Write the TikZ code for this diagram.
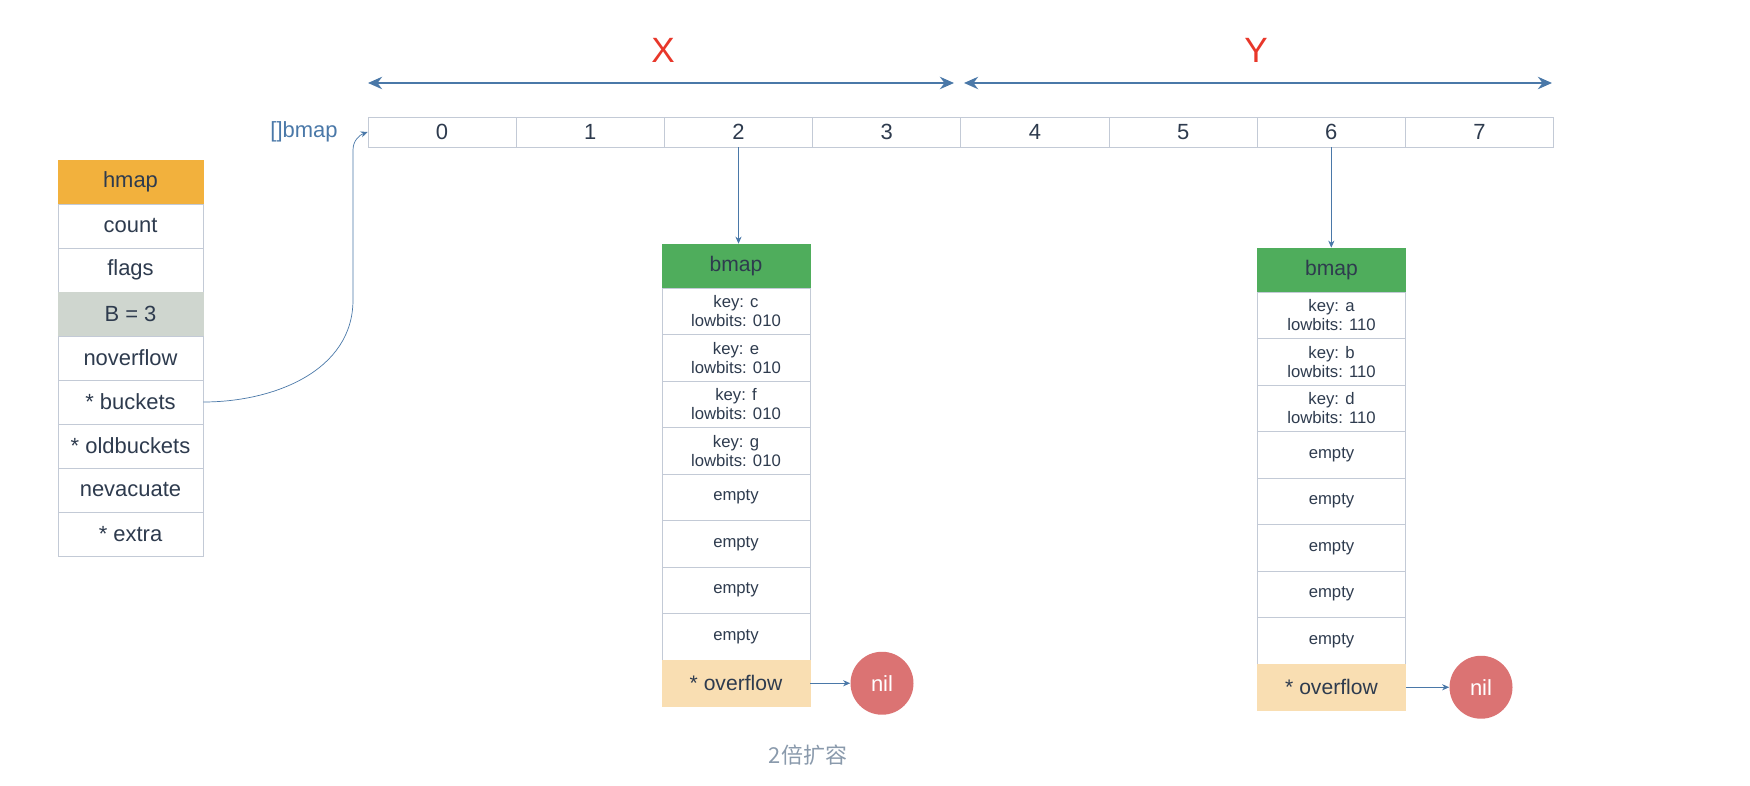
\documentclass[tikz,border=0pt]{standalone}
\usepackage{fontspec}
\setmainfont{Liberation Sans}
\newfontfamily\cjk{Noto Sans CJK SC}
\usetikzlibrary{arrows.meta}
\definecolor{ink}{HTML}{2E3B4E}
\definecolor{rule}{HTML}{C3CAD6}
\definecolor{wire}{HTML}{4A78A8}
\definecolor{hdrorange}{HTML}{F2B13D}
\definecolor{hdrgreen}{HTML}{4FAD5C}
\definecolor{sizegrey}{HTML}{CFD6CF}
\definecolor{ovfl}{HTML}{F9DEB2}
\definecolor{nilred}{HTML}{DB7373}
\definecolor{halfred}{HTML}{E8372A}
\definecolor{note}{HTML}{8A9AAC}
\begin{document}
\begin{tikzpicture}[x=0.02cm,y=-0.02cm,
  every node/.style = {text=ink,inner sep=0pt,font=\fontsize{12.5}{14}\selectfont},
  field/.style = {draw=rule,fill=white,minimum width=2.9cm,minimum height=0.88cm},
  cell/.style = {draw=rule,fill=white,minimum width=2.964cm,minimum height=0.6cm},
  slot/.style = {draw=rule,fill=white,minimum width=2.96cm,minimum height=0.93cm,
    align=center,font=\fontsize{9.5}{10.6}\selectfont},
  head/.style = {draw=hdrgreen,fill=hdrgreen,minimum width=2.96cm,minimum height=0.88cm,
    font=\fontsize{12}{14}\selectfont},
  nilnode/.style = {circle,fill=nilred,minimum size=1.26cm,text=white},
  link/.style = {draw=wire,thin,-{Stealth[length=4pt,width=3.5pt]}},
  span/.style = {draw=wire,line width=1.4pt,
    {Stealth[length=8pt,width=7pt]}-{Stealth[length=8pt,width=7pt]}}]
   \useasboundingbox (0,0) rectangle (1750,786);
   % hmap struct
   \node[field,fill=hdrorange,draw=hdrorange] (hmap) at (130.5,182) {hmap};
   \node[field] (count) at (130.5,226) {count};
   \node[field] (flags) at (130.5,270) {flags};
   \node[field,fill=sizegrey,draw=sizegrey] (bsize) at (130.5,314) {B = 3};
   \node[field] (noverflow) at (130.5,358) {noverflow};
   \node[field] (buckets) at (130.5,402) {* buckets};
   \node[field] (oldbuckets) at (130.5,446) {* oldbuckets};
   \node[field] (nevacuate) at (130.5,490) {nevacuate};
   \node[field] (extra) at (130.5,534) {* extra};
   % bucket array
   \node[text=wire] (arrname) at (304,132) {[]bmap};
   \foreach \k in {0,...,7}
     \node[cell] (arr\k) at ({368+148.2*\k+74.1},132) {\k};
   % X and Y halves
   \coordinate (xl) at (368,83);  \coordinate (xr) at (954,83);
   \coordinate (yl) at (964,83);  \coordinate (yr) at (1552,83);
   \draw[span] (xl) -- (xr);
   \draw[span] (yl) -- (yr);
   \node[text=halfred,font=\fontsize{20}{24}\selectfont] (xlab) at (663,50) {X};
   \node[text=halfred,font=\fontsize{20}{24}\selectfont] (ylab) at (1256,50) {Y};
   % bucket for X
   \node[head] (lhead) at (736,266) {bmap};
   \foreach \i/\txt in {1/{key: c\\lowbits: 010},2/{key: e\\lowbits: 010},
       3/{key: f\\lowbits: 010},4/{key: g\\lowbits: 010},
       5/empty,6/empty,7/empty,8/empty}
     \node[slot] (lslot\i) at (736,{264.75+46.5*\i}) {\txt};
   \node[slot,fill=ovfl,draw=ovfl,font=\fontsize{12}{14}\selectfont] (lover) at (736,683.25) {* overflow};
   \node[nilnode] (lnil) at (882,683.25) {nil};
   % bucket for Y
   \node[head] (rhead) at (1331.5,270) {bmap};
   \foreach \i/\txt in {1/{key: a\\lowbits: 110},2/{key: b\\lowbits: 110},
       3/{key: d\\lowbits: 110},4/empty,5/empty,6/empty,7/empty,8/empty}
     \node[slot] (rslot\i) at (1331.5,{268.75+46.5*\i}) {\txt};
   \node[slot,fill=ovfl,draw=ovfl,font=\fontsize{12}{14}\selectfont] (rover) at (1331.5,687.25) {* overflow};
   \node[nilnode] (rnil) at (1481,687.25) {nil};
   % pointers
   \draw[link] (buckets.east) to[out=0,in=-90] (353,300) -- (353,150)
     to[out=90,in=200] (arr0.west);
   \draw[link] (arr2.south) -- (arr2.south |- lhead.north);
   \draw[link] (arr6.south) -- (arr6.south |- rhead.north);
   \draw[link] (lover) -- (lnil);
   \draw[link] (rover) -- (rnil);
   \node[text=note,font=\cjk\fontsize{12.5}{15}\selectfont] (caption) at (808,755) {2倍扩容};
\end{tikzpicture}
\end{document}
